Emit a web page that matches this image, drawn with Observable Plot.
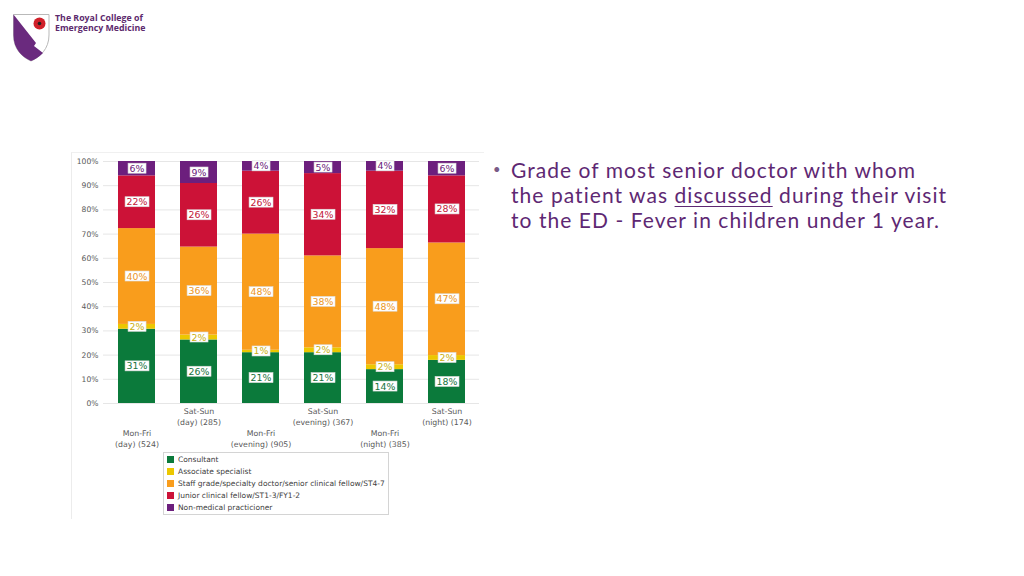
<!DOCTYPE html>
<html>
<head>
<meta charset="utf-8">
<script src="https://cdn.jsdelivr.net/npm/d3@7"></script>
<script src="https://cdn.jsdelivr.net/npm/@observablehq/plot@0.6"></script>
<style>
  html, body { margin: 0; padding: 0; background: #fff; }
  body { width: 1024px; height: 576px; position: relative; overflow: hidden; font-family: "DejaVu Sans", sans-serif; }
  #logo { position: absolute; left: 12px; top: 13px; }
  #logotext { position: absolute; left: 55px; top: 13px; font-family: "Open Sans", sans-serif; font-weight: 700; font-size: 8.8px; line-height: 10px; color: #5d2a6d; }
  #frame { position: absolute; left: 71px; top: 152px; width: 412px; height: 366px; border-top: 1px solid #f0f0f0; border-left: 1px solid #ececec; }
  #chart { position: absolute; left: 70px; top: 150px; }
  #legend { position: absolute; left: 163px; top: 452px; width: 226px; height: 63px; border: 1px solid #d4d4d4; background: #fff; font-family: "DejaVu Sans", sans-serif; font-size: 7.5px; color: #404040; padding-top: 0px; box-sizing: border-box; }
  #legend .item { height: 12px; display: flex; align-items: center; padding-left: 3px; }
  #legend .sw { width: 7px; height: 7px; margin-right: 4px; }
  #text { position: absolute; left: 493px; top: 157px; width: 530px; font-family: "Lato", sans-serif; font-weight: 400; font-size: 21px; line-height: 25px; color: #5e2873; }
  #text .bullet { position: absolute; left: 0; top: 0; font-size: 13px; color: #7a5a86; }
  #text .body { margin-left: 18px; letter-spacing: 1.05px; }
  #text u { text-decoration-thickness: 1px; text-underline-offset: 3px; }
</style>
</head>
<body>
<svg id="logo" width="40" height="50" viewBox="0 0 40 50">
  <path d="M1.5 1.5 H37 V22 C37 36 28 44 19 48 C10 44 1.5 36 1.5 22 Z" fill="#fff" stroke="#b9b9b9" stroke-width="1"/>
  <path d="M1.5 1.5 L24 30 L22 33 L31 40 C27 44 23 46.5 19 48 C10 44 1.5 36 1.5 22 Z" fill="#6a2a7e"/>
  <circle cx="27.5" cy="10.5" r="6" fill="#d0202a"/>
  <circle cx="27.5" cy="10.5" r="1.8" fill="#222"/>
</svg>
<div id="logotext">The Royal College of<br>Emergency Medicine</div>
<div id="frame"></div>
<div id="chart"></div>
<div id="legend"></div>
<div id="text"><span class="bullet">•</span><div class="body">Grade of most senior doctor with whom<br>the patient was <u>discussed</u> during their visit<br>to the ED - Fever in children under 1 year.</div></div>
<script>
const categories = ["Mon-Fri\n(day) (524)", "Sat-Sun\n(day) (285)", "Mon-Fri\n(evening) (905)", "Sat-Sun\n(evening) (367)", "Mon-Fri\n(night) (385)", "Sat-Sun\n(night) (174)"];
const grades = ["Consultant", "Associate specialist", "Staff grade/specialty doctor/senior clinical fellow/ST4-7", "Junior clinical fellow/ST1-3/FY1-2", "Non-medical practicioner"];
const consultant = [31, 26, 21, 21, 14, 18];
const associate = [2, 2, 1, 2, 2, 2];
const staffGrade = [40, 36, 48, 38, 48, 47];
const junior = [22, 26, 26, 34, 32, 28];
const nonMedical = [6, 9, 4, 5, 4, 6];
const yTicks = [0, 0.1, 0.2, 0.3, 0.4, 0.5, 0.6, 0.7, 0.8, 0.9, 1];

const fillColors = ["#0b7a3b", "#ecc700", "#f99d1c", "#cc1237", "#6c1f7d"];
const textColors = ["#17733d", "#c9b011", "#eb961e", "#c21637", "#6a2179"];

const series = [consultant, associate, staffGrade, junior, nonMedical];
const data = [];
categories.forEach((c, i) => grades.forEach((g, j) => data.push({category: c, grade: g, value: series[j][i]})));

const topRow = categories.filter((c, i) => i % 2 === 1);
const bottomRow = categories.filter((c, i) => i % 2 === 0);

const stackOpts = {x: "category", y: "value", z: "grade", offset: "normalize"};

const chart = Plot.plot({
  width: 420,
  height: 300,
  marginLeft: 33,
  marginTop: 11,
  marginRight: 11,
  marginBottom: 47,
  style: {fontFamily: "DejaVu Sans, sans-serif", background: "transparent"},
  x: {domain: categories, paddingInner: 0.41, paddingOuter: 0.2, axis: null},
  y: {domain: [0, 1], axis: null},
  color: {domain: grades, range: fillColors},
  marks: [
    Plot.ruleY(yTicks, {stroke: "#e6e6e6", strokeWidth: 1}),
    Plot.ruleX([0], {frameAnchor: "left", stroke: "#d9d9d9"}),
    Plot.ruleX([0], {frameAnchor: "right", stroke: "#e6e6e6"}),
    Plot.axisY(yTicks, {tickFormat: d3.format(".0%"), tickSize: 0, tickPadding: 5, fontSize: 7.6, fill: "#595959", label: null}),
    Plot.barY(data, Plot.stackY({...stackOpts, fill: "grade"})),
    Plot.text(data, Plot.stackY({...stackOpts, text: d => d.value + "%", fill: d => textColors[grades.indexOf(d.grade)], fontSize: 9.4, className: "seglabel"})),
    Plot.axisX(topRow, {tickSize: 0, tickPadding: 3, fontSize: 7.8, fill: "#595959", lineHeight: 1.42, label: null}),
    Plot.axisX(bottomRow, {tickSize: 0, tickPadding: 3, dy: 22, fontSize: 7.8, fill: "#595959", lineHeight: 1.42, label: null})
  ]
});
document.getElementById("chart").append(chart);

// white label boxes behind segment labels
d3.select(chart).selectAll("g.seglabel text").each(function() {
  const b = this.getBBox();
  const r = document.createElementNS("http://www.w3.org/2000/svg", "rect");
  r.setAttribute("x", b.x - 1.5);
  r.setAttribute("y", b.y + 0.5);
  r.setAttribute("width", b.width + 3);
  r.setAttribute("height", b.height - 1);
  r.setAttribute("fill", "#fff");
  r.setAttribute("stroke", "#dcdcdc");
  r.setAttribute("stroke-width", "0.6");
  const t = this.getAttribute("transform");
  if (t) r.setAttribute("transform", t);
  this.parentNode.insertBefore(r, this);
});

const legend = d3.select("#legend");
grades.forEach((g, j) => {
  const it = legend.append("div").attr("class", "item");
  it.append("div").attr("class", "sw").style("background", fillColors[j]);
  it.append("span").text(g);
});
</script>
</body>
</html>
